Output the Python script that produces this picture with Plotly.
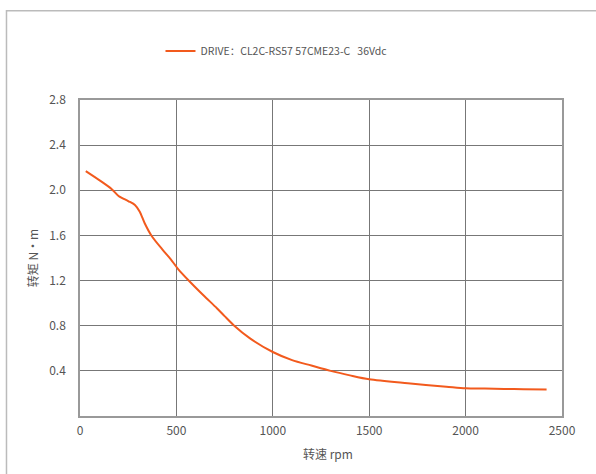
import plotly.graph_objects as go

speed_rpm = [30, 100, 165, 200, 250, 285, 310, 335, 370, 430, 470, 510, 570, 640, 710, 750,
             800, 880, 1000, 1100, 1200, 1300, 1400, 1500, 1700, 1900, 2000, 2100, 2200, 2300, 2420]
torque_nm = [2.17, 2.09, 2.01, 1.95, 1.905, 1.87, 1.81, 1.71, 1.60, 1.47, 1.39, 1.30, 1.19, 1.07,
             0.955, 0.885, 0.80, 0.69, 0.567, 0.495, 0.447, 0.40, 0.36, 0.325, 0.29, 0.26, 0.245,
             0.243, 0.240, 0.237, 0.234]
series_name = "DRIVE：CL2C-RS57 57CME23-C   36Vdc"
x_title = "转速 rpm"
y_title = "转矩 N·m"
y_ticks = [0.4, 0.8, 1.2, 1.6, 2.0, 2.4, 2.8]
y_tick_text = ["0.4", "0.8", "1.2", "1.6", "2.0", "2.4", "2.8"]
x_ticks = [0, 500, 1000, 1500, 2000, 2500]

FONT = "Noto Sans CJK SC"
TXT = "#555555"

fig = go.Figure()
fig.add_trace(go.Scatter(
    x=speed_rpm, y=torque_nm, mode="lines", name=series_name,
    line=dict(color="#f25a1d", width=2, shape="spline", smoothing=0.8),
    showlegend=True,
))

fig.update_layout(
    width=596, height=474,
    margin=dict(l=80, r=34, t=100, b=58, autoexpand=False),
    paper_bgcolor="white", plot_bgcolor="white",
    font=dict(family=FONT, size=12, color=TXT),
    showlegend=True,
    legend=dict(orientation="h", x=0.167, y=1.155, xanchor="left", yanchor="middle",
                font=dict(family=FONT, size=10.5, color=TXT), bgcolor="rgba(0,0,0,0)"),
    xaxis=dict(range=[0, 2500], tickvals=x_ticks, showgrid=True, gridcolor="#777777", gridwidth=1.2,
               showline=True, linecolor="#999999", linewidth=1.5, mirror=True, zeroline=False,
               ticks="outside", ticklen=3, tickcolor="rgba(0,0,0,0)", automargin=False,
               tickfont=dict(family=FONT, size=12, color=TXT)),
    yaxis=dict(range=[0, 2.8], tickvals=y_ticks, ticktext=y_tick_text, showgrid=True,
               gridcolor="#777777", gridwidth=1.2, showline=True, linecolor="#999999", linewidth=1.5,
               mirror=True, zeroline=False, ticks="outside", ticklen=10, tickcolor="rgba(0,0,0,0)",
               automargin=False,
               tickfont=dict(family=FONT, size=12, color=TXT),
               title=dict(text=y_title, standoff=8, font=dict(family=FONT, size=12, color=TXT))),
    annotations=[dict(text=x_title, xref="paper", yref="paper", x=0.5145, y=-0.118,
                      xanchor="center", yanchor="middle", showarrow=False,
                      font=dict(family=FONT, size=12, color=TXT))],
    shapes=[dict(type="rect", xref="paper", yref="paper", x0=-0.1525, x1=2.0, y0=-1.0, y1=1.2823,
                 line=dict(color="#bbbbbb", width=1.5), fillcolor="rgba(0,0,0,0)", layer="below")],
)

fig.write_html("out.html", config={"displayModeBar": False},
               post_script="document.body.style.margin='0';")
